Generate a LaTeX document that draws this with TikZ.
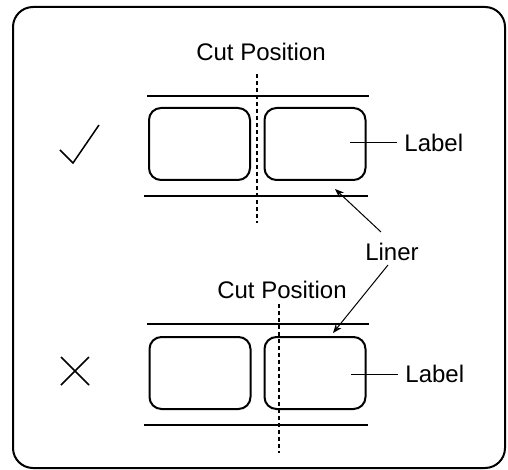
\documentclass[tikz,border=0pt]{standalone}
\usepackage{fontspec}
\setmainfont{Liberation Sans}
\usetikzlibrary{arrows.meta}
\begin{document}
\begin{tikzpicture}[x=0.5pt,y=-0.5pt,
  txt/.style={inner sep=0pt,font=\fontsize{12}{14}\selectfont},
  labelbox/.style={draw,line width=1pt,rounded corners=6pt,minimum width=50.5pt,minimum height=36pt,inner sep=0pt},
  linerline/.style={line width=0.8pt},
  cutline/.style={line width=0.8pt,dash pattern=on 2pt off 1.5pt},
  leader/.style={line width=0.5pt},
  pointer/.style={line width=0.5pt,-{Stealth[length=4.5pt,width=3.5pt]}},
  symbolline/.style={line width=0.75pt}
]
\useasboundingbox (0,0) rectangle (508,470);
\draw[line width=1pt,rounded corners=10pt] (13,7) rectangle (505,468);

% ---- top (correct) ----
\node[txt] (cut1) at (261,52) {Cut Position};
\coordinate (c1t) at (257,74);
\coordinate (c1b) at (257,223);
\coordinate (l1a) at (147,96);
\coordinate (l1b) at (369,96);
\coordinate (l1c) at (144,196);
\coordinate (l1d) at (368,196);
\draw[linerline] (l1a) -- (l1b);
\draw[linerline] (l1c) -- (l1d);
\node[labelbox] (b1l) at (199.5,144) {};
\node[labelbox] (b1r) at (315,144) {};
\draw[cutline] (c1t) -- (c1b);
\coordinate (p1) at (350,143);
\node[txt,anchor=west] (lab1) at (404,143) {Label};
\draw[leader] (p1) -- (lab1.west -| 397,0);
\coordinate (ck1) at (60,150);
\coordinate (ck2) at (73,163);
\coordinate (ck3) at (99,125);
\draw[symbolline] (ck1) -- (ck2) -- (ck3);

% ---- Liner ----
\node[txt] (liner) at (392,252) {Liner};
\coordinate (a1s) at (381,232);
\coordinate (a1e) at (335,189);
\coordinate (a2s) at (388,265);
\coordinate (a2e) at (333,333);
\draw[pointer] (a1s) -- (a1e);
\draw[pointer] (a2s) -- (a2e);

% ---- bottom (wrong) ----
\node[txt] (cut2) at (282,290) {Cut Position};
\coordinate (c2t) at (279,304);
\coordinate (c2b) at (279,453);
\coordinate (l2a) at (147,324);
\coordinate (l2b) at (369,324);
\coordinate (l2c) at (144,425);
\coordinate (l2d) at (368,425);
\draw[linerline] (l2a) -- (l2b);
\draw[linerline] (l2c) -- (l2d);
\node[labelbox] (b2l) at (200,373) {};
\node[labelbox] (b2r) at (315,373) {};
\draw[cutline] (c2t) -- (c2b);
\coordinate (p2) at (351,374);
\node[txt,anchor=west] (lab2) at (405,374) {Label};
\draw[leader] (p2) -- (lab2.west -| 398,0);
\coordinate (x1) at (61,357);
\coordinate (x2) at (89,385);
\coordinate (x3) at (61,385);
\coordinate (x4) at (89,357);
\draw[symbolline] (x1) -- (x2);
\draw[symbolline] (x3) -- (x4);
\end{tikzpicture}
\end{document}
